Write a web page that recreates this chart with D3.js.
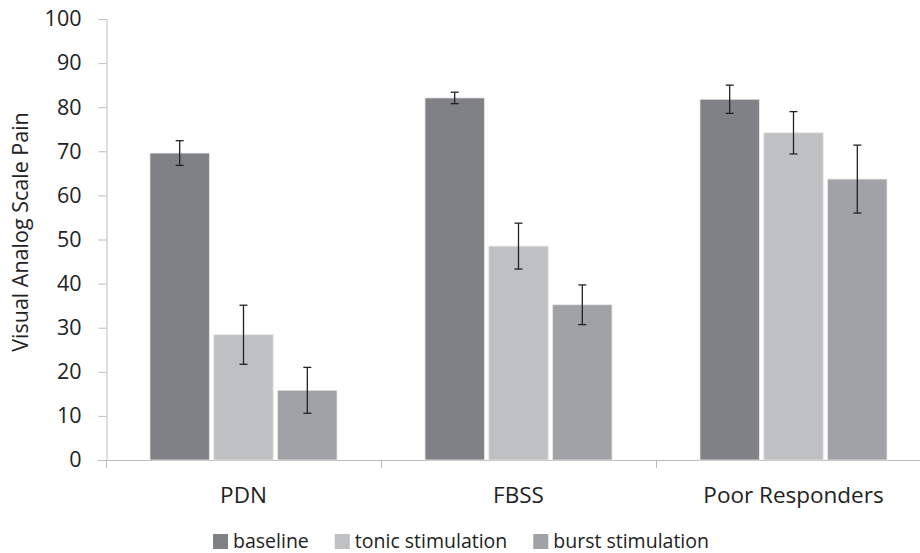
<!DOCTYPE html>
<html>
<head>
<meta charset="utf-8">
<script src="https://cdn.jsdelivr.net/npm/d3@7"></script>
<style>
  body { margin: 0; background: #fff; }
  svg { display: block; font-family: "Open Sans", sans-serif; }
</style>
</head>
<body>
<svg id="chart" width="920" height="553"></svg>
<script>
// data
var categories = ['PDN', 'FBSS', 'Poor Responders'];
var seriesNames = ['baseline', 'tonic stimulation', 'burst stimulation'];
var baseline = [69.6, 82.1, 81.8];
var tonic    = [28.4, 48.5, 74.2];
var burst    = [15.8, 35.2, 63.7];
var baselineErr = [2.8, 1.3, 3.2];
var tonicErr    = [6.7, 5.2, 4.8];
var burstErr    = [5.2, 4.5, 7.7];
var yTicks = [0, 10, 20, 30, 40, 50, 60, 70, 80, 90, 100];
var colors = ['#808185', '#bfc0c2', '#a1a2a5'];

var values = [baseline, tonic, burst];
var errs = [baselineErr, tonicErr, burstErr];

var svg = d3.select('#chart');
var mLeft = 106, mRight = 931, mTop = 19, mBottom = 460;

var x0 = d3.scaleBand().domain(categories).range([mLeft, mRight]);
var x1 = d3.scaleBand().domain(seriesNames).range([44, 231]).paddingInner(0.07);
var y = d3.scaleLinear().domain([0, 100]).range([mBottom, mTop]);

// y axis
var yAxis = svg.append('g')
  .attr('transform', 'translate(' + (mLeft + 0.5) + ',0)')
  .call(d3.axisLeft(y).tickValues(yTicks).tickSize(8).tickPadding(17));
yAxis.attr('font-family', '"Open Sans", sans-serif');
yAxis.select('.domain').attr('stroke', '#bdbdbd');
yAxis.selectAll('.tick line').attr('stroke', '#bdbdbd');
yAxis.selectAll('.tick text').attr('fill', '#222').style('font-size', '21.5px');

// x axis line + category dividers
svg.append('line')
  .attr('x1', mLeft - 8).attr('x2', 920)
  .attr('y1', mBottom + 0.5).attr('y2', mBottom + 0.5)
  .attr('stroke', '#bdbdbd');
svg.selectAll('.divider')
  .data([mLeft, x0('FBSS'), x0('Poor Responders')])
  .enter().append('line')
  .attr('x1', function(d){ return Math.round(d) + 0.5; })
  .attr('x2', function(d){ return Math.round(d) + 0.5; })
  .attr('y1', mBottom).attr('y2', mBottom + 8)
  .attr('stroke', '#bdbdbd');

svg.selectAll('.cat')
  .data(categories)
  .enter().append('text')
  .attr('x', function(d){ return x0(d) + x0.bandwidth() / 2; })
  .attr('y', 503)
  .attr('text-anchor', 'middle')
  .attr('fill', '#222')
  .style('font-size', '22.5px')
  .text(function(d){ return d; });

// bars
var groups = svg.selectAll('.grp')
  .data(categories)
  .enter().append('g')
  .attr('transform', function(d){ return 'translate(' + x0(d) + ',0)'; });

seriesNames.forEach(function(s, si){
  groups.append('rect')
    .attr('x', x1(s))
    .attr('width', x1.bandwidth())
    .attr('y', function(d, i){ return y(values[si][i]); })
    .attr('height', function(d, i){ return mBottom - y(values[si][i]); })
    .attr('fill', colors[si])
    .attr('stroke', '#e6e6e6')
    .attr('stroke-width', 0.8);
});

// error bars
seriesNames.forEach(function(s, si){
  var cx = x1(s) + x1.bandwidth() / 2;
  groups.append('line')
    .attr('x1', cx).attr('x2', cx)
    .attr('y1', function(d, i){ return y(values[si][i] + errs[si][i]); })
    .attr('y2', function(d, i){ return y(values[si][i] - errs[si][i]); })
    .attr('stroke', '#222').attr('stroke-width', 1.3);
  [1, -1].forEach(function(sign){
    groups.append('line')
      .attr('x1', cx - 4).attr('x2', cx + 4)
      .attr('y1', function(d, i){ return y(values[si][i] + sign * errs[si][i]); })
      .attr('y2', function(d, i){ return y(values[si][i] + sign * errs[si][i]); })
      .attr('stroke', '#222').attr('stroke-width', 1.3);
  });
});

// y title
svg.append('text')
  .attr('transform', 'translate(28,232) rotate(-90)')
  .attr('text-anchor', 'middle')
  .attr('fill', '#222')
  .style('font-size', '21.5px')
  .text('Visual Analog Scale Pain');

// legend
var legend = svg.append('g');
var lx = 0;
seriesNames.forEach(function(s, si){
  var item = legend.append('g').attr('transform', 'translate(' + lx + ',0)');
  item.append('rect').attr('x', 0).attr('y', -14).attr('width', 15).attr('height', 15).attr('fill', colors[si]);
  var t = item.append('text').attr('x', 20).attr('y', 0)
    .attr('fill', '#222').style('font-size', '19.5px').text(s);
  lx += 20 + t.node().getComputedTextLength() + 26;
});
var lw = lx - 26;
legend.attr('transform', 'translate(' + (461 - lw / 2) + ',548)');
</script>
</body>
</html>
